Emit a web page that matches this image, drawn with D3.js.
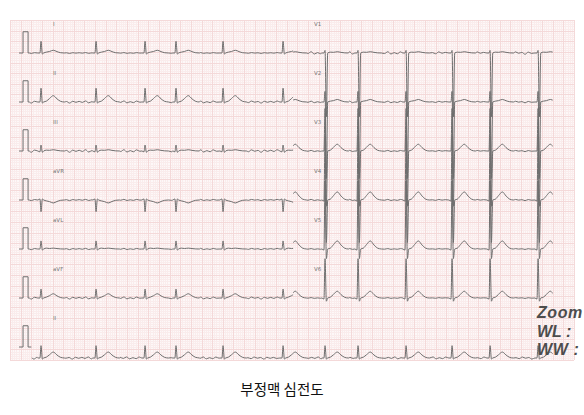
<!DOCTYPE html>
<html><head><meta charset="utf-8">
<script src="https://cdn.jsdelivr.net/npm/d3@7"></script>
<style>
html,body{margin:0;padding:0;background:#fff;}
svg{display:block;}
</style></head>
<body>
<script>
// ---------- data ----------
// R-peak times (s) of the irregular rhythm, shared by all simultaneously recorded leads
const beatTimes = [0.583, 1.617, 2.538, 3.120, 4.004, 5.132, 5.921, 6.541, 7.444, 8.308, 9.023, 9.925];
const leadNames = ["I", "II", "III", "aVR", "aVL", "aVF", "V1", "V2", "V3", "V4", "V5", "V6", "II"];
// amplitudes in mV
const qWave = [0.00, 0.00, -0.04, 0.05, 0.00, 0.00, 0.00, 0.00, 0.00, -0.05, -0.05, -0.05, 0.00];
const rWave = [0.55, 0.65, 0.28, -0.55, 0.38, 0.42, 0.12, 0.50, 2.00, 3.00, 3.20, 1.85, 0.58];
const sWave = [-0.05, -0.05, -0.06, 0.05, -0.05, -0.05, -3.00, -3.60, -2.60, -2.00, -0.45, -0.15, -0.05];
const tWave = [0.13, 0.30, 0.06, -0.14, 0.04, 0.20, 0.06, 0.12, 0.32, 0.38, 0.38, 0.32, 0.28];
const fAmp  = [0.02, 0.05, 0.06, 0.03, 0.03, 0.05, 0.06, 0.04, 0.03, 0.03, 0.02, 0.02, 0.05];
// fibrillatory baseline pattern (relative)
const fPattern = [0.6, -0.4, 1.0, -0.8, 0.3, -0.6, 0.9, -0.2, 0.5, -1.0, 0.7, -0.3];
const titleText = "부정맥 심전도";
const overlayText = ["Zoom", "WL :", "WW :"];

// ---------- layout ----------
const W = 584, H = 415;
const paper = {x0: 10, x1: 574, y0: 20, y1: 360};
const secTotal = 10.6;            // 53 large squares of 0.2 s
const mvTotal = 16;               // 32 large squares of 0.5 mV
const rowBase = i => 53 + i * 49;
const tLimbStart = 0.36, tSplit = 5.32, tEnd = 10.2, tRhythmStart = 0.41;

const svg = d3.select("body").append("svg").attr("width", W).attr("height", H);

const x = d3.scaleLinear().domain([0, secTotal]).range([paper.x0, paper.x1]);
const pxPerMv = (paper.y1 - paper.y0) / mvTotal;

// ---------- paper ----------
svg.append("rect").attr("x", paper.x0).attr("y", paper.y0)
  .attr("width", paper.x1 - paper.x0).attr("height", paper.y1 - paper.y0)
  .attr("fill", "#fdf8f8");
const gGrid = svg.append("g");
const yGrid = d3.scaleLinear().domain([0, mvTotal]).range([paper.y0, paper.y1]);
const minorX = d3.range(0, secTotal + 1e-6, 0.04);
const minorY = d3.range(0, mvTotal + 1e-6, 0.1);
const minorCol = "#faecec", majorCol = "#f4d9d9";
gGrid.selectAll(".vx").data(minorX).join("line")
  .attr("x1", d => Math.round(x(d)) + 0.5).attr("x2", d => Math.round(x(d)) + 0.5)
  .attr("y1", paper.y0).attr("y2", paper.y1).attr("stroke", minorCol);
gGrid.selectAll(".hy").data(minorY).join("line")
  .attr("y1", d => Math.round(yGrid(d)) + 0.5).attr("y2", d => Math.round(yGrid(d)) + 0.5)
  .attr("x1", paper.x0).attr("x2", paper.x1).attr("stroke", minorCol);
gGrid.selectAll(".vmaj").data(minorX.filter((d, i) => i % 5 === 0)).join("line")
  .attr("x1", d => Math.round(x(d)) + 0.5).attr("x2", d => Math.round(x(d)) + 0.5)
  .attr("y1", paper.y0).attr("y2", paper.y1).attr("stroke", majorCol);
gGrid.selectAll(".hmaj").data(minorY.filter((d, i) => i % 5 === 0)).join("line")
  .attr("y1", d => Math.round(yGrid(d)) + 0.5).attr("y2", d => Math.round(yGrid(d)) + 0.5)
  .attr("x1", paper.x0).attr("x2", paper.x1).attr("stroke", majorCol);

// ---------- traces ----------
const line = d3.line().x(d => x(d[0])).y(d => d[1]).curve(d3.curveMonotoneX);
const defs = svg.append("defs");
const gTr = svg.append("g").attr("fill", "none").attr("stroke", "#6e6e6e").attr("stroke-width", 1);

function leadPoints(li, base, t0, t1) {
  const y = d3.scaleLinear().domain([-1, 1]).range([base + pxPerMv, base - pxPerMv]);
  const pts = [];
  const busy = t => beatTimes.some(b => t > b - 0.07 && t < b + 0.45);
  let k = 0;
  for (let t = t0 - 0.5; t <= t1 + 0.5; t += 0.06, k++) {
    if (!busy(t)) pts.push([t, y(fAmp[li] * fPattern[k % fPattern.length])]);
  }
  beatTimes.forEach(b => {
    if (b < t0 - 0.6 || b > t1 + 0.6) return;
    const T = tWave[li];
    pts.push([b - 0.06, y(0)], [b - 0.02, y(qWave[li])], [b, y(rWave[li])],
             [b + 0.025, y(sWave[li])], [b + 0.05, y(0)], [b + 0.10, y(0.04 * Math.sign(T))],
             [b + 0.16, y(T * 0.55)], [b + 0.23, y(T)], [b + 0.30, y(T * 0.5)],
             [b + 0.37, y(T * 0.1)], [b + 0.44, y(0)]);
  });
  pts.sort((a, b) => a[0] - b[0]);
  return pts;
}

let clipId = 0;
function drawSegment(li, base, t0, t1) {
  const id = "c" + (clipId++);
  defs.append("clipPath").attr("id", id).append("rect")
    .attr("x", x(t0)).attr("y", 0).attr("width", x(t1) - x(t0)).attr("height", H);
  gTr.append("path").attr("clip-path", `url(#${id})`)
    .attr("d", line(leadPoints(li, base, t0, t1)));
}

function drawCal(base, tEndCal) {
  const ptsCal = [[0.17, base], [0.245, base], [0.245, base - pxPerMv],
                  [0.34, base - pxPerMv], [0.34, base], [tEndCal, base]];
  gTr.append("path").attr("d", d3.line().x(d => x(d[0])).y(d => d[1])(ptsCal));
}

for (let r = 0; r < 6; r++) {
  const base = rowBase(r);
  drawCal(base, tLimbStart);
  drawSegment(r, base, tLimbStart, tSplit);
  drawSegment(r + 6, base, tSplit, tEnd);
}
// rhythm strip
drawCal(rowBase(6), 0.40);
drawSegment(12, rowBase(6) + 11, tRhythmStart, tEnd);

// ---------- labels ----------
const gLab = svg.append("g").attr("font-family", "DejaVu Sans, sans-serif")
  .attr("font-size", 5.5).attr("fill", "#777");
for (let r = 0; r < 7; r++) {
  gLab.append("text").attr("x", 53).attr("y", rowBase(r) - 27.5).text(leadNames[r === 6 ? 12 : r]);
}
for (let r = 0; r < 6; r++) {
  gLab.append("text").attr("x", 314).attr("y", rowBase(r) - 27.5).text(leadNames[r + 6]);
}

// overlay text
const ov = svg.append("g").attr("font-family", "Liberation Sans, Arial, sans-serif")
  .attr("font-weight", "bold").attr("font-style", "italic").attr("font-size", 16)
  .attr("fill", "#4d4d4d");
[318, 337, 355].forEach((yy, i) => {
  ov.append("text").attr("x", 537).attr("y", yy)
    .attr("letter-spacing", i === 1 ? 0 : 0.6).text(overlayText[i]);
});

// title
svg.append("text").attr("x", 282).attr("y", 395).attr("text-anchor", "middle")
  .attr("font-family", "Noto Sans CJK KR, sans-serif").attr("font-size", 14.5)
  .attr("fill", "#111").text(titleText);
</script>
</body></html>
